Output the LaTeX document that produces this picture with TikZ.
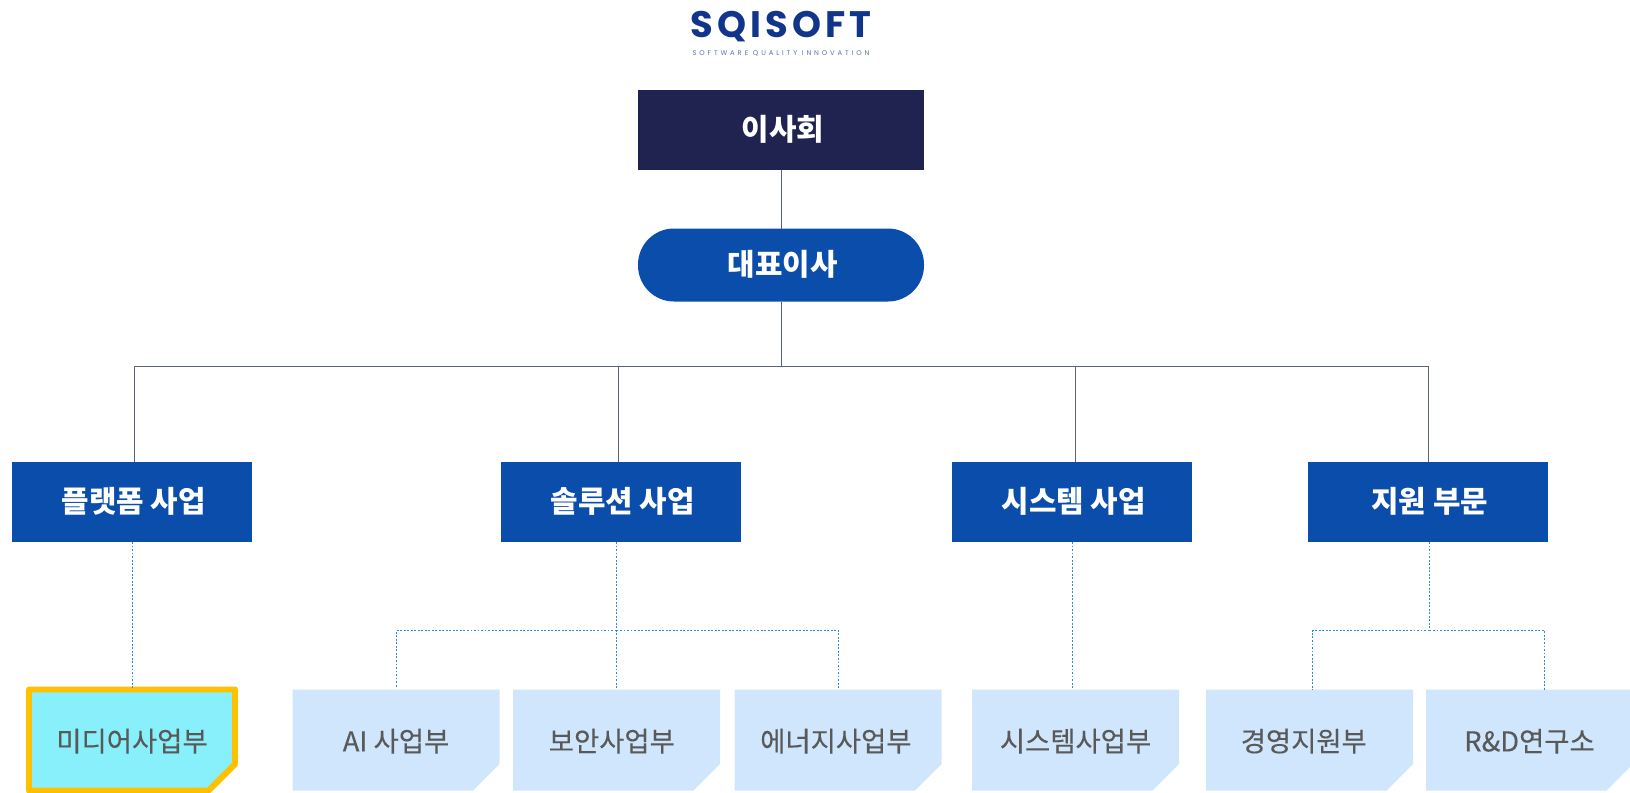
\documentclass[tikz,border=0pt]{standalone}
\usepackage{fontspec}
\setmainfont{Noto Sans CJK KR}
\newfontfamily\teamfont[FakeBold=0.2]{Noto Sans CJK KR}
\newfontfamily\logofont[LetterSpace=11]{Poppins}
\newfontfamily\taglinefont[LetterSpace=42]{Poppins}
\usetikzlibrary{shapes.misc}
\definecolor{boardnavy}{HTML}{20224F}
\definecolor{mainblue}{HTML}{0B4DAB}
\definecolor{paleblue}{HTML}{D0E6FD}
\definecolor{paletext}{HTML}{595959}
\definecolor{mediacyan}{HTML}{87F0FB}
\definecolor{mediagold}{HTML}{FFC000}
\definecolor{solidgrey}{HTML}{5A6675}
\definecolor{dotblue}{HTML}{2E8BD8}
\definecolor{logoblue}{HTML}{12358C}
\tikzset{
    head/.style={fill=mainblue,text=white,font=\fontsize{17}{20}\selectfont\bfseries,inner sep=0pt,outer sep=0pt,minimum width=240*0.02cm,minimum height=80*0.02cm,text depth=0.05em,text height=1.3em,execute at begin node={\kern 2pt}},
    team/.style={chamfered rectangle,chamfered rectangle corners=south east,chamfered rectangle sep=15*0.02cm,fill=paleblue,text=paletext,font=\teamfont\fontsize{15.6}{18}\selectfont,inner sep=0pt,outer sep=0pt,minimum width=207*0.02cm,minimum height=101*0.02cm,text depth=0em,text height=1.3em},
    solidline/.style={draw=solidgrey,line width=0.57pt},
    dotline/.style={draw=dotblue,line width=0.57pt,dash pattern=on 1.1pt off 0.9pt}
}
\begin{document}
\begin{tikzpicture}[x=0.02cm,y=-0.02cm]
        \useasboundingbox (0,0) rectangle (1630,792);
        \node (logo) at (781,27) [text=logoblue,font=\logofont\fontsize{21}{24}\selectfont\bfseries] {SQISOFT};
        \node (tagline) at (781,54) [text=logoblue!70,font=\taglinefont\fontsize{3.9}{4}\selectfont] {SOFTWARE QUALITY INNOVATION};
        \node (board) at (781,130) [head,fill=boardnavy,minimum width=286*0.02cm] {이사회};
        \node (ceo) at (781,265) [head,rounded corners=36*0.02cm,minimum width=286*0.02cm,minimum height=73*0.02cm] {대표이사};
        \coordinate (hub) at (781.5,366.5);
        \node (platform) at (132,502) [head] {플랫폼 사업};
        \node (solution) at (621,502) [head] {솔루션 사업};
        \node (system) at (1072,502) [head] {시스템 사업};
        \node (support) at (1428,502) [head] {지원 부문};
        \coordinate (platformtop) at (134.5,462);
        \coordinate (solutiontop) at (618.5,462);
        \coordinate (systemtop) at (1075.5,462);
        \coordinate (supporttop) at (1428.5,462);
        \coordinate (platformfoot) at (132.5,542);
        \coordinate (solutionfoot) at (616.5,542);
        \coordinate (systemfoot) at (1072.5,542);
        \coordinate (supportfoot) at (1429.5,542);
        \coordinate (solutionhub) at (616.5,630.5);
        \coordinate (supporthub) at (1429.5,630.5);
        \coordinate (aitop) at (396.5,688);
        \coordinate (energytop) at (838.5,688);
        \coordinate (admintop) at (1312.5,690);
        \coordinate (researchtop) at (1544.5,690);
        \node (media) at (132,740) [team,fill=mediacyan,draw=mediagold,line width=3.4pt,line join=round,minimum width=206*0.02cm] {미디어사업부};
        \node (ai) at (396,740) [team] {AI 사업부};
        \node (security) at (616.5,740) [team] {보안사업부\kern 5.3pt};
        \node (energy) at (838,740) [team] {에너지사업부\kern 2.4pt};
        \node (systemteam) at (1075.5,740) [team] {시스템사업부};
        \node (admin) at (1309.5,740) [team] {경영지원부\kern 6.5pt};
        \node (research) at (1529.5,740) [team] {R\&D연구소};
        \draw [solidline] (board.south -| hub) -- (ceo.north -| hub);
        \draw [solidline] (ceo.south -| hub) -- (hub);
        \draw [solidline] (hub) -| (platformtop);
        \draw [solidline] (hub) -| (solutiontop);
        \draw [solidline] (hub) -| (systemtop);
        \draw [solidline] (hub) -| (supporttop);
        \draw [dotline] (platformfoot) -- (platformfoot |- media.north);
        \draw [dotline] (solutionfoot) -- (solutionhub) -- (solutionhub |- security.north);
        \draw [dotline] (solutionhub) -| (aitop);
        \draw [dotline] (solutionhub) -| (energytop);
        \draw [dotline] (systemfoot) -- (systemfoot |- systemteam.north);
        \draw [dotline] (supportfoot) -- (supporthub);
        \draw [dotline] (supporthub) -| (admintop);
        \draw [dotline] (supporthub) -| (researchtop);
    \end{tikzpicture}
\end{document}
